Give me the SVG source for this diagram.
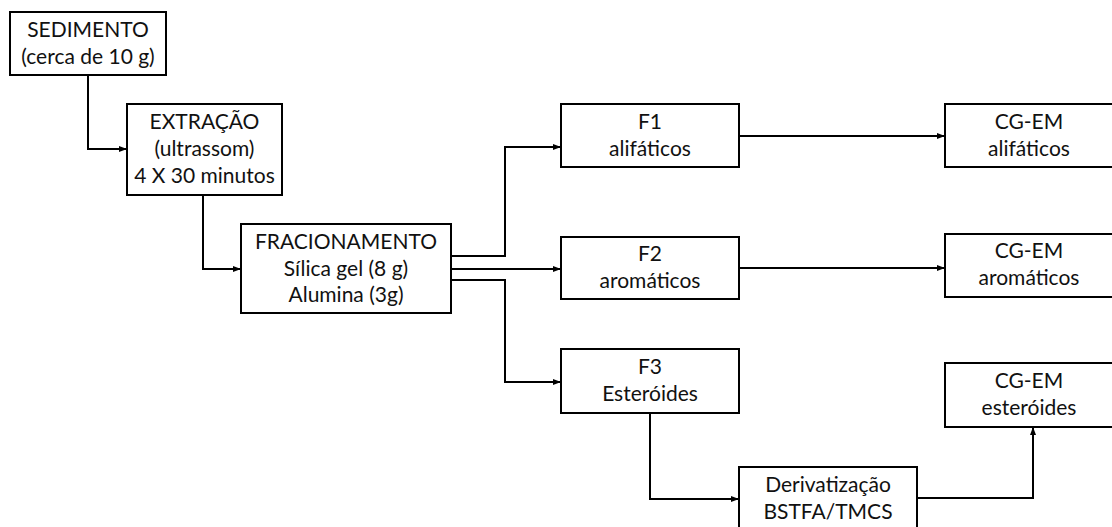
<svg xmlns="http://www.w3.org/2000/svg" width="1112" height="527" viewBox="0 0 1112 527">
<style>
.box{fill:#fff;stroke:#000;stroke-width:2}
.t{font-family:Lato,"Open Sans",sans-serif;font-size:21px;fill:#111;text-anchor:middle}
.c{fill:none;stroke:#000;stroke-width:2}
</style>
<defs>
<marker id="ah" markerWidth="8" markerHeight="8" refX="7" refY="4" orient="auto" markerUnits="userSpaceOnUse">
<path d="M0,1 L8,4 L0,7 Z" fill="#000"/>
</marker>
</defs>
<rect width="1112" height="527" fill="#fff"/>
<g id="connectors">
<path class="c" d="M88,75 V149 H126" marker-end="url(#ah)"/>
<path class="c" d="M203,195 V269 H240" marker-end="url(#ah)"/>
<path class="c" d="M451,256 H505 V147 H560" marker-end="url(#ah)"/>
<path class="c" d="M451,269 H560" marker-end="url(#ah)"/>
<path class="c" d="M451,280 H505 V382 H560" marker-end="url(#ah)"/>
<path class="c" d="M739,136 H944" marker-end="url(#ah)"/>
<path class="c" d="M739,268 H944" marker-end="url(#ah)"/>
<path class="c" d="M650,413 V499 H738" marker-end="url(#ah)"/>
<path class="c" d="M917,498 H1033 V428" marker-end="url(#ah)"/>
</g>
<g id="sedimento">
<rect class="box" x="10" y="12" width="156" height="63"/>
<text class="t" x="88" y="37">SEDIMENTO</text>
<text class="t" x="88" y="64">(cerca de 10 g)</text>
</g>
<g id="extracao">
<rect class="box" x="127" y="104" width="155" height="91"/>
<text class="t" x="204.5" y="129">EXTRAÇÃO</text>
<text class="t" x="204.5" y="156">(ultrassom)</text>
<text class="t" x="204.5" y="183">4 X 30 minutos</text>
</g>
<g id="fracionamento">
<rect class="box" x="241" y="224" width="210" height="89"/>
<text class="t" x="346" y="249">FRACIONAMENTO</text>
<text class="t" x="346" y="276">Sílica gel (8 g)</text>
<text class="t" x="346" y="302">Alumina (3g)</text>
</g>
<g id="f1">
<rect class="box" x="561" y="104" width="178" height="63"/>
<text class="t" x="650" y="129">F1</text>
<text class="t" x="650" y="156">alifáticos</text>
</g>
<g id="f2">
<rect class="box" x="561" y="237" width="178" height="62"/>
<text class="t" x="650" y="261">F2</text>
<text class="t" x="650" y="288">aromáticos</text>
</g>
<g id="f3">
<rect class="box" x="561" y="349" width="178" height="64"/>
<text class="t" x="650" y="374">F3</text>
<text class="t" x="650" y="401">Esteróides</text>
</g>
<g id="cgem-alifaticos">
<rect class="box" x="945" y="104" width="170" height="63"/>
<text class="t" x="1029" y="129">CG-EM</text>
<text class="t" x="1029" y="156">alifáticos</text>
</g>
<g id="cgem-aromaticos">
<rect class="box" x="945" y="234" width="170" height="63"/>
<text class="t" x="1029" y="258">CG-EM</text>
<text class="t" x="1029" y="285">aromáticos</text>
</g>
<g id="cgem-esteroides">
<rect class="box" x="945" y="363" width="170" height="64"/>
<text class="t" x="1029" y="388">CG-EM</text>
<text class="t" x="1029" y="415">esteróides</text>
</g>
<g id="derivatizacao">
<rect class="box" x="739" y="467" width="178" height="70"/>
<text class="t" x="828" y="492">Derivatização</text>
<text class="t" x="828" y="519">BSTFA/TMCS</text>
</g>
</svg>
